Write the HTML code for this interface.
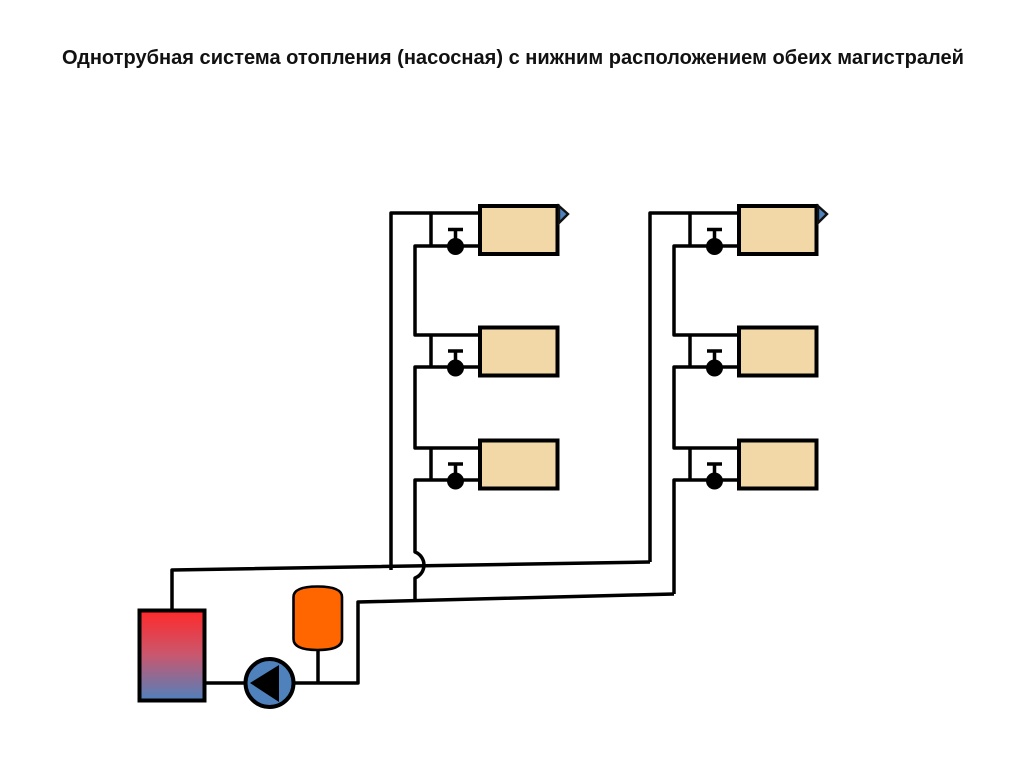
<!DOCTYPE html>
<html lang="ru">
<head>
<meta charset="utf-8">
<title>Однотрубная система отопления</title>
<style>
html,body{margin:0;padding:0;background:#fff;width:1024px;height:767px;overflow:hidden}
svg{display:block;filter:blur(.3px)}
text{font-family:"Liberation Sans","DejaVu Sans",sans-serif;font-weight:bold;fill:#111}
</style>
</head>
<body>
<svg xmlns="http://www.w3.org/2000/svg" width="1024" height="767" viewBox="0 0 1024 767">
<defs>
<linearGradient id="b" x1="0" y1="0" x2="0" y2="1">
<stop offset="0" stop-color="#ff2a2a"/>
<stop offset=".5" stop-color="#c8586f"/>
<stop offset="1" stop-color="#4f81bd"/>
</linearGradient>
<g id="unit" stroke="#000" stroke-width="3.500" fill="none">
<path d="M431 7.500V40.500M448 23.500H463M455.500 23.500V34"/>
<circle cx="455.500" cy="40.500" r="8.500" fill="#000" stroke="none"/>
<rect x="480" y="0" width="77.500" height="48" fill="#f2d8a7" stroke-width="4"/>
</g>
</defs>

<text x="62" y="64" font-size="20.500" textLength="902" lengthAdjust="spacingAndGlyphs">Однотрубная система отопления (насосная) с нижним расположением обеих магистралей</text>

<g fill="none" stroke="#000" stroke-width="3.500" stroke-linejoin="round">
<!-- left riser pair -->
<path d="M479 213H391V570"/>
<path d="M479 246H415V335H479"/>
<path d="M479 367H415V448H479"/>
<path d="M479 480H415V552A13.900 13.900 0 0 1 415 578V601"/>
<!-- right riser pair -->
<path d="M738 213H650V562"/>
<path d="M738 246H674V335H738"/>
<path d="M738 367H674V448H738"/>
<path d="M738 480H674V594"/>
<!-- mains -->
<path d="M172 610V570L650 562"/>
<path d="M205 683H358V602L674 594"/>
<path d="M318 650V683"/>
</g>

<use href="#unit" y="206"/>
<use href="#unit" y="327.500"/>
<use href="#unit" y="440.500"/>
<use href="#unit" x="259" y="206"/>
<use href="#unit" x="259" y="327.500"/>
<use href="#unit" x="259" y="440.500"/>

<!-- air vents -->
<polygon points="559,206 568,214 559,223" fill="#4f81bd" stroke="#111" stroke-width="2.400"/>
<polygon points="818,206 827,214 818,223" fill="#4f81bd" stroke="#111" stroke-width="2.400"/>

<!-- boiler -->
<rect x="139.500" y="610.500" width="65" height="90" fill="url(#b)" stroke="#000" stroke-width="4"/>

<!-- expansion tank -->
<path d="M293.500 597Q293.500 586.500 317.500 586.500Q342 586.500 342 597V639Q342 650 317.500 650Q293.500 650 293.500 639Z" fill="#ff6600" stroke="#000" stroke-width="2.600"/>

<!-- pump -->
<circle cx="269.500" cy="683" r="24" fill="#4f81bd" stroke="#000" stroke-width="4"/>
<polygon points="250,683 279,665 279,702" fill="#000"/>
</svg>
</body>
</html>
